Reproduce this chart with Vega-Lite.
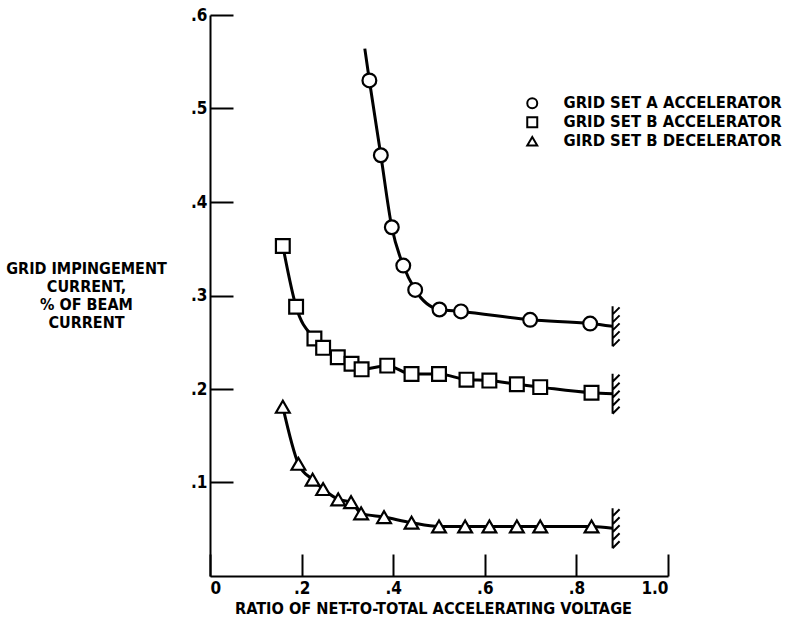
{
  "$schema": "https://vega.github.io/schema/vega-lite/v6.json",
  "width": 458,
  "height": 561,
  "autosize": {"type": "none"},
  "padding": {"left": 210, "top": 15, "right": 117, "bottom": 53},
  "background": "white",
  "config": {
    "view": {"stroke": null},
    "font": "DejaVu Sans Condensed",
    "axis": {"grid": false, "domainColor": "black", "domainWidth": 2, "tickColor": "black", "tickWidth": 2, "labelColor": "black", "titleColor": "black", "labelFont": "DejaVu Sans Condensed", "titleFont": "DejaVu Sans Condensed", "labelFontWeight": "bold", "titleFontWeight": "bold"},
    "legend": {"labelFont": "DejaVu Sans Condensed", "labelFontWeight": "bold", "labelFontSize": 16.5, "labelColor": "black", "labelLimit": 0, "labelOffset": 23, "rowPadding": 0, "symbolStrokeWidth": 2}
  },
  "data": {
    "values": [
      {"series": "GRID SET A ACCELERATOR", "kind": "end", "x": 0.338, "y": 0.564},
      {"series": "GRID SET A ACCELERATOR", "kind": "point", "x": 0.348, "y": 0.530},
      {"series": "GRID SET A ACCELERATOR", "kind": "point", "x": 0.373, "y": 0.450},
      {"series": "GRID SET A ACCELERATOR", "kind": "point", "x": 0.397, "y": 0.373},
      {"series": "GRID SET A ACCELERATOR", "kind": "point", "x": 0.422, "y": 0.332},
      {"series": "GRID SET A ACCELERATOR", "kind": "point", "x": 0.448, "y": 0.306},
      {"series": "GRID SET A ACCELERATOR", "kind": "point", "x": 0.501, "y": 0.285},
      {"series": "GRID SET A ACCELERATOR", "kind": "point", "x": 0.548, "y": 0.283},
      {"series": "GRID SET A ACCELERATOR", "kind": "point", "x": 0.699, "y": 0.274},
      {"series": "GRID SET A ACCELERATOR", "kind": "point", "x": 0.830, "y": 0.270},
      {"series": "GRID SET A ACCELERATOR", "kind": "stop", "x": 0.879, "y": 0.267},
      {"series": "GRID SET B ACCELERATOR", "kind": "point", "x": 0.159, "y": 0.353},
      {"series": "GRID SET B ACCELERATOR", "kind": "point", "x": 0.188, "y": 0.288},
      {"series": "GRID SET B ACCELERATOR", "kind": "point", "x": 0.228, "y": 0.254},
      {"series": "GRID SET B ACCELERATOR", "kind": "point", "x": 0.247, "y": 0.244},
      {"series": "GRID SET B ACCELERATOR", "kind": "point", "x": 0.279, "y": 0.234},
      {"series": "GRID SET B ACCELERATOR", "kind": "point", "x": 0.309, "y": 0.227},
      {"series": "GRID SET B ACCELERATOR", "kind": "point", "x": 0.331, "y": 0.221},
      {"series": "GRID SET B ACCELERATOR", "kind": "point", "x": 0.387, "y": 0.225},
      {"series": "GRID SET B ACCELERATOR", "kind": "point", "x": 0.440, "y": 0.216},
      {"series": "GRID SET B ACCELERATOR", "kind": "point", "x": 0.500, "y": 0.216},
      {"series": "GRID SET B ACCELERATOR", "kind": "point", "x": 0.560, "y": 0.210},
      {"series": "GRID SET B ACCELERATOR", "kind": "point", "x": 0.610, "y": 0.209},
      {"series": "GRID SET B ACCELERATOR", "kind": "point", "x": 0.670, "y": 0.205},
      {"series": "GRID SET B ACCELERATOR", "kind": "point", "x": 0.721, "y": 0.202},
      {"series": "GRID SET B ACCELERATOR", "kind": "point", "x": 0.833, "y": 0.196},
      {"series": "GRID SET B ACCELERATOR", "kind": "stop", "x": 0.879, "y": 0.195},
      {"series": "GIRD SET B DECELERATOR", "kind": "point", "x": 0.159, "y": 0.181},
      {"series": "GIRD SET B DECELERATOR", "kind": "point", "x": 0.193, "y": 0.120},
      {"series": "GIRD SET B DECELERATOR", "kind": "point", "x": 0.224, "y": 0.103},
      {"series": "GIRD SET B DECELERATOR", "kind": "point", "x": 0.247, "y": 0.093},
      {"series": "GIRD SET B DECELERATOR", "kind": "point", "x": 0.280, "y": 0.082},
      {"series": "GIRD SET B DECELERATOR", "kind": "point", "x": 0.308, "y": 0.079},
      {"series": "GIRD SET B DECELERATOR", "kind": "point", "x": 0.330, "y": 0.067},
      {"series": "GIRD SET B DECELERATOR", "kind": "point", "x": 0.380, "y": 0.063},
      {"series": "GIRD SET B DECELERATOR", "kind": "point", "x": 0.440, "y": 0.057},
      {"series": "GIRD SET B DECELERATOR", "kind": "point", "x": 0.500, "y": 0.053},
      {"series": "GIRD SET B DECELERATOR", "kind": "point", "x": 0.557, "y": 0.053},
      {"series": "GIRD SET B DECELERATOR", "kind": "point", "x": 0.610, "y": 0.053},
      {"series": "GIRD SET B DECELERATOR", "kind": "point", "x": 0.670, "y": 0.053},
      {"series": "GIRD SET B DECELERATOR", "kind": "point", "x": 0.721, "y": 0.053},
      {"series": "GIRD SET B DECELERATOR", "kind": "point", "x": 0.833, "y": 0.053},
      {"series": "GIRD SET B DECELERATOR", "kind": "stop", "x": 0.879, "y": 0.051}
    ]
  },
  "encoding": {
    "x": {
      "field": "x", "type": "quantitative",
      "scale": {"domain": [0, 1], "nice": false, "zero": false},
      "axis": {
        "values": [0, 0.2, 0.4, 0.6, 0.8, 1.0],
        "labelExpr": "datum.value == 0 ? '0' : datum.value == 1 ? '1.0' : replace(format(datum.value, '.1f'), '0.', '.')",
        "tickSize": -22, "labelPadding": 26, "labelFontSize": 17, "labelBaseline": "top",
        "title": "RATIO OF NET-TO-TOTAL ACCELERATING VOLTAGE",
        "titleFontSize": 16.2, "titleX": 223, "titleY": 32, "titleBaseline": "middle", "titleAnchor": "middle", "titleAlign": "center"
      }
    },
    "y": {
      "field": "y", "type": "quantitative",
      "scale": {"domain": [0, 0.6], "nice": false, "zero": false},
      "axis": {
        "values": [0.1, 0.2, 0.3, 0.4, 0.5, 0.6],
        "labelExpr": "replace(format(datum.value, '.1f'), '0.', '.')",
        "tickSize": -23, "labelPadding": 26, "labelFontSize": 17,
        "title": ["GRID IMPINGEMENT", "CURRENT,", "% OF BEAM", "CURRENT"],
        "titleAngle": 0, "titleFontSize": 16, "titleLineHeight": 18, "titleX": -124, "titleY": 253, "titleAlign": "center", "titleBaseline": "middle"
      }
    }
  },
  "layer": [
    {
      "mark": {"type": "line", "interpolate": "monotone", "color": "black", "strokeWidth": 3},
      "encoding": {"detail": {"field": "series"}}
    },
    {
      "transform": [{"filter": "datum.kind == 'point'"}],
      "mark": {"type": "point", "filled": false, "fill": "white", "color": "black", "strokeWidth": 2.2, "size": 190, "opacity": 1},
      "encoding": {
        "shape": {
          "field": "series", "type": "nominal",
          "scale": {"domain": ["GRID SET A ACCELERATOR", "GRID SET B ACCELERATOR", "GIRD SET B DECELERATOR"], "range": ["circle", "square", "triangle-up"]},
          "legend": {"orient": "none", "legendX": 314, "legendY": 80, "title": null}
        }
      }
    },
    {
      "transform": [{"filter": "datum.kind == 'stop'"}],
      "mark": {"type": "point", "shape": "M0,-1L0,1M0,-0.6L0.35,-0.95M0,-0.2L0.35,-0.55M0,0.2L0.35,-0.15M0,0.6L0.35,0.25M0,1L0.35,0.65", "size": 1600, "stroke": "black", "strokeWidth": 2, "filled": false, "opacity": 1}
    }
  ]
}
